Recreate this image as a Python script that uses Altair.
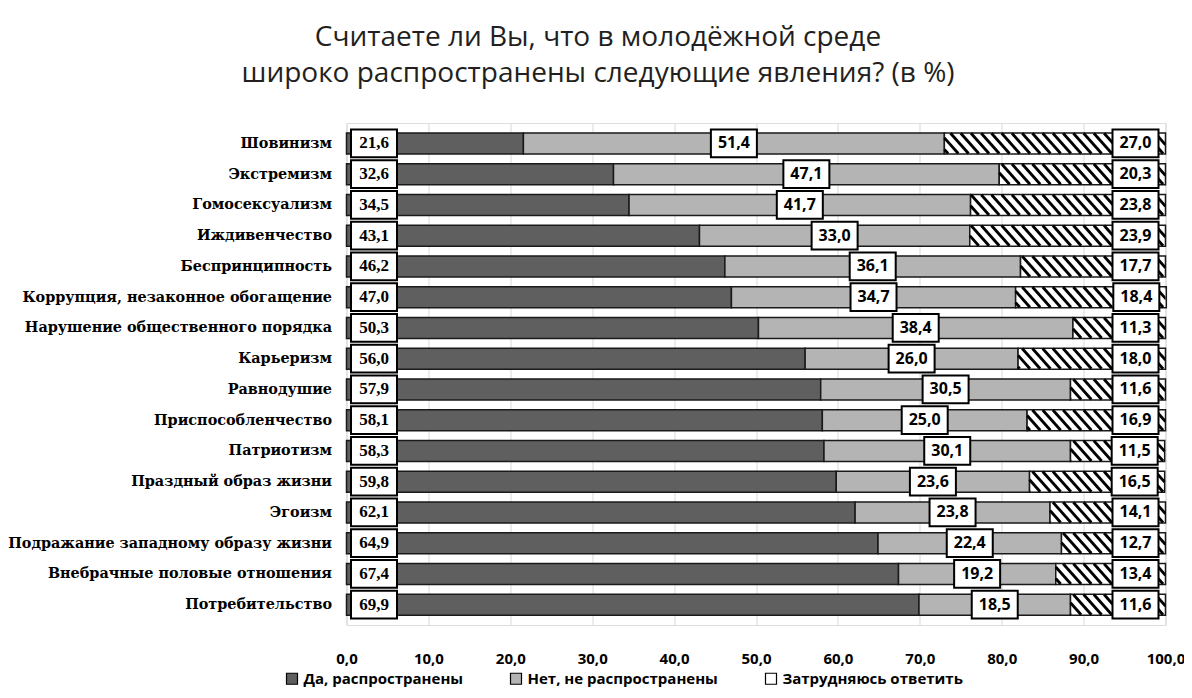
import json
import altair as alt
import pandas as pd

categories = [
    "Шовинизм", "Экстремизм", "Гомосексуализм", "Иждивенчество",
    "Беспринципность", "Коррупция, незаконное обогащение",
    "Нарушение общественного порядка", "Карьеризм", "Равнодушие",
    "Приспособленчество", "Патриотизм", "Праздный образ жизни", "Эгоизм",
    "Подражание западному образу жизни", "Внебрачные половые отношения",
    "Потребительство",
]
yes_vals = [21.6, 32.6, 34.5, 43.1, 46.2, 47.0, 50.3, 56.0, 57.9, 58.1, 58.3, 59.8, 62.1, 64.9, 67.4, 69.9]
no_vals = [51.4, 47.1, 41.7, 33.0, 36.1, 34.7, 38.4, 26.0, 30.5, 25.0, 30.1, 23.6, 23.8, 22.4, 19.2, 18.5]
hard_vals = [27.0, 20.3, 23.8, 23.9, 17.7, 18.4, 11.3, 18.0, 11.6, 16.9, 11.5, 16.5, 14.1, 12.7, 13.4, 11.6]
series_names = ["Да, распространены", "Нет, не распространены", "Затрудняюсь ответить"]
x_ticks = [0, 10, 20, 30, 40, 50, 60, 70, 80, 90, 100]
title_lines = ["Считаете ли Вы, что в молодёжной среде",
               "широко распространены следующие явления? (в %)"]

DARK, LIGHT = "#5f5f5f", "#b4b4b4"

wide = pd.DataFrame({"cat": categories, "idx": list(range(len(categories))),
                     "yes": yes_vals, "no": no_vals, "hard": hard_vals})
rows = []
for i, c in enumerate(categories):
    for o, (s, v) in enumerate(zip(series_names, [yes_vals[i], no_vals[i], hard_vals[i]])):
        rows.append({"cat": c, "idx": i, "series": s, "order": o, "value": v})
long = pd.DataFrame(rows)

yscale = alt.Scale(domain=[-0.5, len(categories) - 0.5], reverse=True, nice=False, zero=False)
xscale = alt.Scale(domain=[0, 100], nice=False)
label_expr = json.dumps(categories, ensure_ascii=False) + "[datum.value]"

yaxis = alt.Axis(values=list(range(len(categories))), labelExpr=label_expr, title=None,
                 ticks=False, domain=False, grid=False, labelFont="DejaVu Serif",
                 labelFontWeight="bold", labelFontSize=14.4, labelColor="black",
                 labelPadding=15, labelLimit=400, labelOverlap=False, labelBound=False)
xaxis = alt.Axis(values=x_ticks, labelExpr="replace(format(datum.value, '.1f'), '.', ',')",
                 grid=True, gridColor="#d9d9d9", gridWidth=1, domain=False, ticks=False,
                 labelPadding=26, labelFont="Open Sans", labelFontWeight="bold",
                 labelFontSize=15, labelColor="black", labelFlush=False, title=None,
                 labelOverlap=False)

bars = alt.Chart(long).mark_bar(size=21, stroke="#1a1a1a", strokeWidth=1.5,
                                orient="horizontal").encode(
    x=alt.X("value:Q", stack="zero", scale=xscale, axis=xaxis),
    y=alt.Y("idx:Q", scale=yscale, axis=yaxis),
    color=alt.Color("series:N", scale=alt.Scale(domain=series_names, range=[DARK, LIGHT, "#ffffff"]),
                    legend=alt.Legend(orient="none", legendX=-62, legendY=548,
                                      direction="horizontal", title=None, symbolType="square",
                                      symbolSize=121, symbolStrokeColor="black",
                                      symbolStrokeWidth=1.2, labelFont="Open Sans",
                                      labelFontWeight="bold", labelFontSize=15,
                                      labelColor="black", columnPadding=44, labelOffset=4,
                                      labelLimit=400)),
    order=alt.Order("order:Q"),
)

SP, D, HH = 1.25, 2.2, 0.33
stripes = alt.Chart(wide).transform_calculate(
    a="datum.yes + datum.no", b="datum.yes + datum.no + datum.hard",
    k="sequence(0, 40)",
).transform_flatten(["k"]).transform_calculate(
    s=f"floor((datum.a - {D}) / {SP}) * {SP} + datum.k * {SP}"
).transform_calculate(
    t0=f"max(0, (datum.a - datum.s) / {D})", t1=f"min(1, (datum.b - datum.s) / {D})"
).transform_filter("datum.t1 > datum.t0").transform_calculate(
    sx1=f"datum.s + datum.t0 * {D}", sx2=f"datum.s + datum.t1 * {D}",
    sy1=f"datum.idx - {HH} + datum.t0 * {2*HH}", sy2=f"datum.idx - {HH} + datum.t1 * {2*HH}",
).mark_rule(color="black", strokeWidth=2.8, clip=True).encode(
    x=alt.X("sx1:Q", scale=xscale, axis=xaxis), x2="sx2:Q",
    y=alt.Y("sy1:Q", scale=yscale, axis=yaxis), y2="sy2:Q",
)

BOX = "M-1,-0.6L1,-0.6L1,0.6L-1,0.6Z"
base = alt.Chart(wide).transform_calculate(
    zero="0", mid="datum.yes + datum.no / 2", end="datum.yes + datum.no + datum.hard",
    t_yes="replace(format(datum.yes, '.1f'), '.', ',')",
    t_no="replace(format(datum.no, '.1f'), '.', ',')",
    t_hard="replace(format(datum.hard, '.1f'), '.', ',')",
)

def box(xfield, xoff):
    return base.mark_point(shape=BOX, size=2116, filled=True, fill="white", stroke="black",
                           strokeWidth=2, opacity=1, xOffset=xoff).encode(
        x=alt.X(f"{xfield}:Q", scale=xscale, axis=xaxis),
        y=alt.Y("idx:Q", scale=yscale, axis=yaxis))

def label(xfield, tfield, xoff, font, size):
    return base.mark_text(xOffset=xoff, font=font, fontWeight="bold", fontSize=size,
                          color="black", baseline="middle", align="center").encode(
        x=alt.X(f"{xfield}:Q", scale=xscale, axis=xaxis),
        y=alt.Y("idx:Q", scale=yscale, axis=yaxis),
        text=f"{tfield}:N")

PL, PT, W, H = 338.5, 115, 819, 502
chart = alt.layer(
    bars, stripes,
    box("zero", 27.5), box("mid", 0), box("end", -30),
    label("zero", "t_yes", 27.5, "Liberation Serif", 17),
    label("mid", "t_no", 0, "Open Sans", 16),
    label("end", "t_hard", -30, "Open Sans", 16),
).properties(
    width=W, height=H,
    autosize=alt.AutoSizeParams(type="none"),
    padding={"top": PT, "left": PL, "right": 1176 - PL - W, "bottom": 682 - PT - H},
    title=alt.TitleParams(text=title_lines, font="Open Sans", fontSize=28, fontWeight="normal",
                          color="#231f20", lineHeight=36, anchor="middle",
                          dx=598 - (PL + 8 + W / 2), offset=35),
).configure_view(stroke=None).configure(background="white").configure_axis(labelOverlap=False)

chart.save("out.html", embed_options={"renderer": "svg", "actions": False})
